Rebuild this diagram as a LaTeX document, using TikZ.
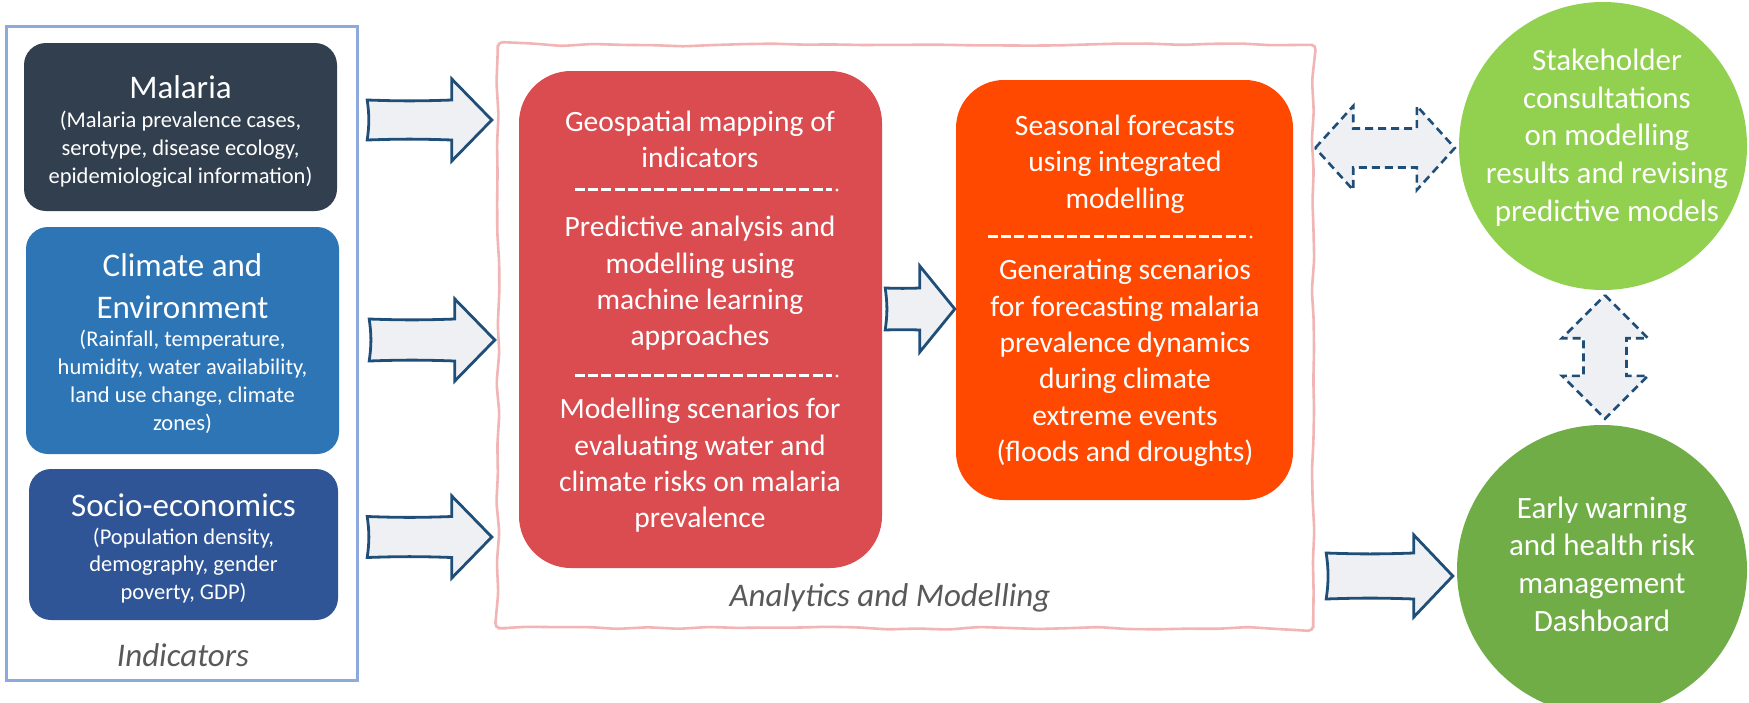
\documentclass[tikz,border=0pt]{standalone}
\usepackage{fontspec}
\setmainfont{Carlito}
\usetikzlibrary{calc,decorations.pathmorphing}

\definecolor{malariabg}{HTML}{323F4F}
\definecolor{climatebg}{HTML}{2E75B6}
\definecolor{sociobg}{HTML}{2F5597}
\definecolor{indframe}{HTML}{8EA9DB}
\definecolor{anaframe}{HTML}{F2B5B5}
\definecolor{analysisbg}{HTML}{DA4C50}
\definecolor{forecastbg}{HTML}{FF4800}
\definecolor{stakebg}{HTML}{92D050}
\definecolor{warnbg}{HTML}{70AD47}
\definecolor{arrowline}{HTML}{1F4E79}
\definecolor{arrowfill}{HTML}{EEF0F3}
\definecolor{captiongray}{HTML}{595959}

% right-pointing block arrow: style, tail, tip, shaft half-width, head half-width, head length
\newcommand\blockarrowright[6]{%
  \draw[#1] let \p1=(#2), \p2=(#3) in
    (\x1,\y1+#4) to[bend right=2] (\x2-#6,\y1+#4) -- (\x2-#6,\y1+#5) -- (\x2,\y2)
    -- (\x2-#6,\y1-#5) -- (\x2-#6,\y1-#4) to[bend right=2] (\x1,\y1-#4)
    to[bend right=8] cycle;}
% horizontal double block arrow: style, left tip, right tip, shaft half, head half, head length
\newcommand\dblarrowh[6]{%
  \draw[#1] let \p1=(#2), \p2=(#3) in
    (\x1,\y1) -- (\x1+#6,\y1+#5) -- (\x1+#6,\y1+#4) -- (\x2-#6,\y1+#4) -- (\x2-#6,\y1+#5)
    -- (\x2,\y2) -- (\x2-#6,\y1-#5) -- (\x2-#6,\y1-#4) -- (\x1+#6,\y1-#4) -- (\x1+#6,\y1-#5) -- cycle;}
% vertical double block arrow: style, top tip, bottom tip, shaft half, head half, head length
\newcommand\dblarrowv[6]{%
  \draw[#1] let \p1=(#2), \p2=(#3) in
    (\x1,\y1) -- (\x1+#5,\y1-#6) -- (\x1+#4,\y1-#6) -- (\x1+#4,\y2+#6) -- (\x1+#5,\y2+#6)
    -- (\x2,\y2) -- (\x1-#5,\y2+#6) -- (\x1-#4,\y2+#6) -- (\x1-#4,\y1-#6) -- (\x1-#5,\y1-#6) -- cycle;}

\begin{document}
\begin{tikzpicture}[x=1pt,y=-1pt,
  inbox/.style={rounded corners=22pt, inner sep=0pt, draw=none},
  bigbox/.style={rounded corners=52pt, inner sep=0pt, draw=none},
  titletext/.style={text=white, align=center, inner sep=0pt, font=\fontsize{33}{41}\selectfont},
  subtext/.style={text=white, align=center, inner sep=0pt, font=\fontsize{22.5}{27.8}\selectfont},
  midtext/.style={text=white, align=center, inner sep=0pt, font=\fontsize{29.5}{36.3}\selectfont},
  disctext/.style={text=white, align=center, inner sep=0pt, font=\fontsize{31}{37.7}\selectfont},
  caption/.style={text=captiongray, inner sep=0pt, font=\fontsize{33}{40}\selectfont\itshape},
  disc/.style={circle, inner sep=0pt, draw=none},
  sepline/.style={white, line width=3pt, dash pattern=on 10pt off 3.2pt},
  flowarrow/.style={draw=arrowline, fill=arrowfill, line width=2.8pt, line join=miter},
  linkarrow/.style={draw=arrowline, fill=arrowfill, line width=2.6pt, dash pattern=on 8pt off 5pt, line join=miter},
  frame/.style={inner sep=0pt, draw=none}]

\useasboundingbox[fill=white] (0,0) rectangle (1749,702);

% ---- indicators column ----
\node[frame, minimum width=350, minimum height=653] (ind) at (182,353.5) {};
\draw[indframe, line width=3pt] (ind.north west) rectangle (ind.south east);

\node[inbox, fill=malariabg, minimum width=313, minimum height=168] (mal) at (180.5,127) {};
\node[inbox, fill=climatebg, minimum width=313, minimum height=227] (cli) at (182.5,340.5) {};
\node[inbox, fill=sociobg, minimum width=309, minimum height=151] (soc) at (183.5,544.5) {};

\node[titletext] (malT) at (180.5,87) {Malaria};
\node[subtext] (malS) at (180.5,149.5) {(Malaria prevalence cases,\\serotype, disease ecology,\\epidemiological information)};
\node[titletext, font=\fontsize{33}{42}\selectfont] (cliT) at (182.5,286) {Climate and\\Environment};
\node[subtext] (cliS) at (182.5,382) {(Rainfall, temperature,\\humidity, water availability,\\land use change, climate\\zones)};
\node[titletext] (socT) at (183.5,505) {Socio-economics};
\node[subtext] (socS) at (183.5,565.5) {(Population density,\\demography, gender\\poverty, GDP)};

\node[caption] (indC) at (183,655) {Indicators};

% ---- analytics and modelling ----
\node[frame, minimum width=815, minimum height=583] (ana) at (905.5,336.5) {};
\pgfmathsetseed{11}
\draw[anaframe, line width=2.6pt, rounded corners=5pt,
  decorate, decoration={random steps, segment length=30pt, amplitude=1.6pt}]
  (ana.north) -- (ana.north east) -- (ana.south east) -- (ana.south west)
  -- (ana.north west) -- cycle;

\node[bigbox, fill=analysisbg, minimum width=363, minimum height=497] (red) at (700.5,319.5) {};
\node[bigbox, rounded corners=48pt, fill=forecastbg, minimum width=337, minimum height=420] (org) at (1124.5,290) {};

\node[midtext] (r1) at (700,139.5) {Geospatial mapping of\\indicators};
\draw[sepline] (575,189) -- (832,189);
\fill[white] (837,190) circle (1.6pt);
\node[midtext] (r2) at (700,283.5) {Predictive analysis and\\modelling using\\machine learning\\approaches};
\draw[sepline] (575,375) -- (832,375);
\fill[white] (837,376) circle (1.6pt);
\node[midtext] (r3) at (700,465.5) {Modelling scenarios for\\evaluating water and\\climate risks on malaria\\prevalence};

\node[midtext] (o1) at (1125,164) {Seasonal forecasts\\using integrated\\modelling};
\draw[sepline] (988,236) -- (1246,236);
\fill[white] (1251,237) circle (1.6pt);
\node[midtext] (o2) at (1125,363) {Generating scenarios\\for forecasting malaria\\prevalence dynamics\\during climate\\extreme events\\(floods and droughts)};

\node[caption] (anaC) at (890,598) {Analytics and Modelling};

% ---- outcomes ----
\node[disc, fill=stakebg, minimum size=288] (stake) at (1603,146) {};
\node[disc, fill=warnbg, minimum size=290] (warn) at (1602,570) {};
\node[disctext] (stakeT) at (1607,137.5) {Stakeholder\\consultations\\on modelling\\results and revising\\predictive models};
\node[disctext] (warnT) at (1602,564) {Early warning\\and health risk\\management\\Dashboard};

% ---- block arrows ----
\coordinate (a1s) at ($(mal.east)+(30,-7)$);
\coordinate (a1e) at ($(ana.west |- a1s)+(-6,0)$);
\coordinate (a2s) at ($(cli.east)+(30,-0.5)$);
\coordinate (a2e) at ($(ana.west |- a2s)+(-3,0)$);
\coordinate (a3s) at ($(soc.east)+(29,-7.5)$);
\coordinate (a3e) at ($(ana.west |- a3s)+(-6,0)$);
\coordinate (a4s) at ($(red.east)+(3,-10.5)$);
\coordinate (a4e) at ($(org.west |- a4s)+(-1,0)$);
\coordinate (a5s) at ($(ana.east |- warn.center)+(13,6)$);
\coordinate (a5e) at ($(warn.west)+(-4,6)$);
\coordinate (d1s) at ($(ana.east |- stake.center)+(2,2)$);
\coordinate (d1e) at ($(stake.west)+(-4,2)$);
\coordinate (d2s) at ($(stake.south)+(2,5)$);
\coordinate (d2e) at ($(warn.north)+(3,-6)$);

\blockarrowright{flowarrow}{a1s}{a1e}{20pt}{41pt}{40pt}
\blockarrowright{flowarrow}{a2s}{a2e}{21pt}{41pt}{40pt}
\blockarrowright{flowarrow}{a3s}{a3e}{20.5pt}{41pt}{40pt}
\blockarrowright{flowarrow}{a4s}{a4e}{21pt}{43pt}{35pt}
\blockarrowright{flowarrow}{a5s}{a5e}{23pt}{41pt}{39pt}
\dblarrowh{linkarrow}{d1s}{d1e}{19.5pt}{42pt}{38pt}
\dblarrowv{linkarrow}{d2s}{d2e}{21.5pt}{43pt}{43pt}

\end{tikzpicture}
\end{document}
